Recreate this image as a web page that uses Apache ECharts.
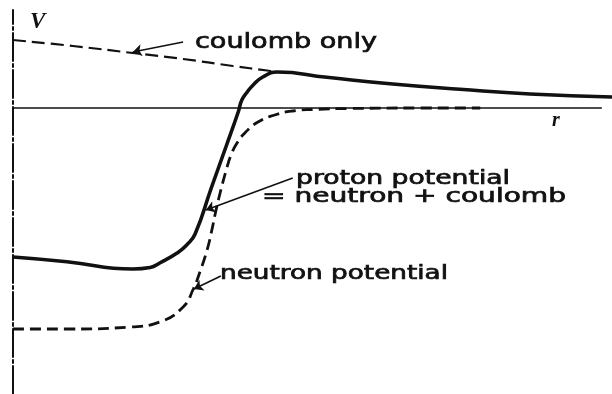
<!DOCTYPE html>
<html>
<head>
<meta charset="utf-8">
<title>Nuclear potential: proton, neutron and coulomb</title>
<script src="https://cdn.jsdelivr.net/npm/echarts@6/dist/echarts.min.js"></script>
<style>
  html, body { margin: 0; padding: 0; background: #ffffff; }
  #chart { width: 612px; height: 394px; }
</style>
</head>
<body>
<div id="chart"></div>
<script>
// Radius r (arbitrary units) and potential V (arbitrary units, 0 = far field)
const coulombR = [0, 1.0, 2.0, 2.84, 3.67, 4.24, 4.41];
const coulombV = [6.8, 6.2, 5.5, 4.9, 4.2, 3.75, 3.6];

const protonR = [0, 0.9, 2.0, 2.29, 2.45, 2.74, 2.9, 3.04, 3.31, 3.56, 3.76, 3.82, 3.91, 4.01, 4.17, 4.41, 5.24, 6.34, 7.46, 8.63, 10.0];
const protonV = [-14.9, -15.37, -16.1, -15.95, -15.5, -14.5, -13.7, -12.6, -8.0, -3.8, -0.4, 0.8, 1.6, 2.3, 3.1, 3.6, 3.07, 2.4, 1.87, 1.4, 1.1];

const neutronR = [0, 0.95, 1.95, 2.45, 2.84, 3.01, 3.12, 3.24, 3.32, 3.39, 3.47, 3.56, 3.64, 3.74, 3.87, 4.09, 4.37, 4.67, 5.01, 5.63, 6.79, 7.8];
const neutronV = [-22.1, -22.1, -21.9, -21.4, -19.9, -18.1, -16.4, -14.2, -12.2, -10.2, -8.2, -6.2, -4.7, -3.5, -2.5, -1.4, -0.7, -0.3, -0.15, -0.05, 0, 0];

// r axis drawn along V = 0
const rAxisR = [0, 9.83];
const rAxisV = [0, 0];

// Annotation arrows: [fromR, fromV, toR, toV]
const coulombArrow = [2.84, 6.6, 2.0, 5.6];
const protonArrow = [4.67, -7.0, 3.22, -10.2];
const neutronArrow = [3.47, -16.8, 3.02, -18.1];

const labelCoulomb = 'coulomb only';
const labelProton1 = 'proton potential';
const labelProton2 = '= neutron + coulomb';
const labelNeutron = 'neutron potential';

const INK = '#111111';
const pairs = (xs, ys) => xs.map((x, i) => [x, ys[i]]);

// Stretch text horizontally to the wide typeface of the figure
const measureCtx = document.createElement('canvas').getContext('2d');
function stretch(str, size, width) {
  measureCtx.font = size + 'px "DejaVu Sans"';
  return width / measureCtx.measureText(str).width;
}
function note(str, left, midY, size, width) {
  return {
    type: 'text', x: left, y: midY, scaleX: stretch(str, size, width), silent: true,
    style: {
      text: str, fontFamily: 'DejaVu Sans', fontSize: size, fill: INK,
      stroke: INK, lineWidth: 0.7, align: 'left', verticalAlign: 'middle'
    }
  };
}
function arrow(a, curveness) {
  return [
    { coord: [a[0], a[1]], lineStyle: { curveness: curveness } },
    { coord: [a[2], a[3]], lineStyle: { curveness: curveness } }
  ];
}

const chart = echarts.init(document.getElementById('chart'), null, { renderer: 'canvas' });
chart.setOption({
  animation: false,
  backgroundColor: '#ffffff',
  grid: { left: 13, right: 0, top: 10, bottom: 0 },
  xAxis: {
    type: 'value', min: 0, max: 10,
    axisLine: { show: false }, axisTick: { show: false }, axisLabel: { show: false }, splitLine: { show: false }
  },
  yAxis: {
    type: 'value', min: -28.6, max: 9.8,
    name: 'V', nameLocation: 'end', nameGap: -1,
    nameTextStyle: {
      fontFamily: 'Liberation Serif', fontStyle: 'italic', fontWeight: 'bold', fontSize: 23,
      color: INK, align: 'left', verticalAlign: 'top', padding: [0, 0, 0, 17]
    },
    axisLine: { show: true, onZero: false, lineStyle: { color: INK, width: 2, type: [28, 3, 3, 3] } },
    axisTick: { show: false }, axisLabel: { show: false }, splitLine: { show: false }
  },
  series: [
    {
      name: 'r axis', type: 'line', data: pairs(rAxisR, rAxisV),
      symbol: 'none', silent: true,
      lineStyle: { color: INK, width: 1.5 }
    },
    {
      name: 'coulomb only', type: 'line', data: pairs(coulombR, coulombV),
      symbol: 'none', smooth: 0.4, silent: true,
      lineStyle: { color: INK, width: 2.2, type: [13, 6] },
      markLine: {
        silent: true, symbol: ['none', 'arrow'], symbolSize: 9, label: { show: false },
        lineStyle: { color: INK, width: 1.6, type: 'solid' },
        data: [arrow(coulombArrow, -0.1), arrow(protonArrow, -0.2), arrow(neutronArrow, 0)]
      }
    },
    {
      name: 'neutron potential', type: 'line', data: pairs(neutronR, neutronV),
      symbol: 'none', smooth: 0.5, silent: true,
      lineStyle: { color: INK, width: 2.8, type: [11, 6] }
    },
    {
      name: 'proton potential', type: 'line', data: pairs(protonR, protonV),
      symbol: 'none', smooth: 0.5, silent: true,
      lineStyle: { color: INK, width: 3.6 }
    }
  ],
  graphic: [
    note(labelCoulomb, 195, 43, 21, 182),
    note(labelProton1, 296, 179, 19, 214),
    note(labelProton2, 262, 197, 19, 304),
    note(labelNeutron, 220, 274, 19, 228),
    {
      type: 'text', x: 552, y: 121, silent: true,
      style: { text: 'r', fontFamily: 'Liberation Serif', fontStyle: 'italic', fontWeight: 'bold', fontSize: 20, fill: INK, align: 'left', verticalAlign: 'middle' }
    }
  ]
});
</script>
</body>
</html>
